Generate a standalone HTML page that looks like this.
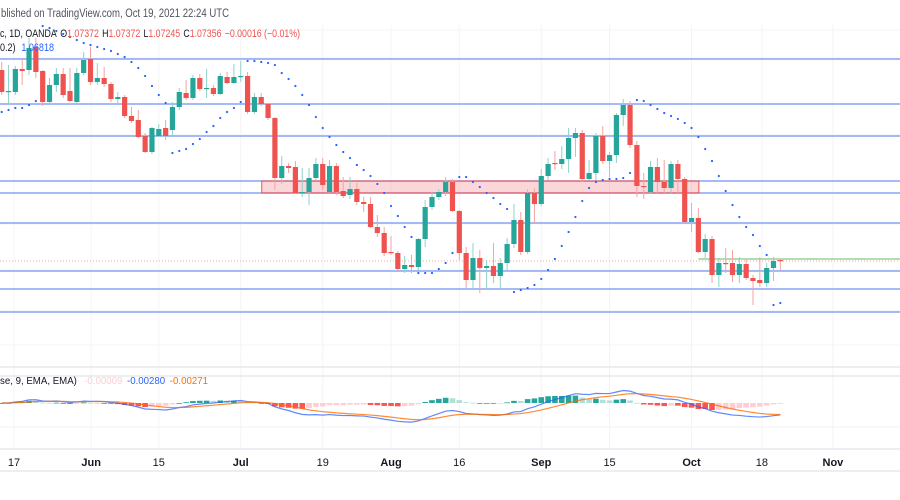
<!DOCTYPE html>
<html><head><meta charset="utf-8"><style>
html,body{margin:0;padding:0;background:#fff;width:900px;height:500px;overflow:hidden}
svg{display:block;font-family:"Liberation Sans",sans-serif}
</style></head><body>
<svg id="chart" width="900" height="500" viewBox="0 0 900 500" xmlns="http://www.w3.org/2000/svg">
<g id="grid"></g>
<g id="levels"></g>
<g id="candles"></g>
<g id="sar"></g>
<g id="macd"></g>
<g id="axis"></g>
<text x="1" y="17" font-size="11.5" fill="#50535e" textLength="228" lengthAdjust="spacingAndGlyphs">blished on TradingView.com, Oct 19, 2021 22:24 UTC</text>
<text x="0" y="37" font-size="11" fill="#131722" textLength="300" lengthAdjust="spacingAndGlyphs">c, 1D, OANDA <tspan dx="2">O</tspan><tspan fill="#ef5350">1.07372</tspan><tspan dx="4">H</tspan><tspan fill="#ef5350">1.07372</tspan><tspan dx="4">L</tspan><tspan fill="#ef5350">1.07245</tspan><tspan dx="4">C</tspan><tspan fill="#ef5350">1.07356</tspan><tspan dx="4" fill="#ef5350">−0.00016 (−0.01%)</tspan></text>
<text x="0" y="51" font-size="11" fill="#131722" textLength="54" lengthAdjust="spacingAndGlyphs">0.2) <tspan dx="4" fill="#2962ff">1.06818</tspan></text>
<text x="0" y="384" font-size="10.5" fill="#131722" textLength="208" lengthAdjust="spacingAndGlyphs">se, 9, EMA, EMA) <tspan dx="5" fill="#ffcdd2">-0.00009</tspan><tspan dx="5" fill="#2962ff">-0.00280</tspan><tspan dx="5" fill="#ff6d00">-0.00271</tspan></text>
</svg>
<script>
const opens=[1.0930,1.0908,1.0908,1.0931,1.0930,1.0953,1.0929,1.0898,1.0915,1.0926,1.0909,1.0898,1.0927,1.0941,1.0918,1.0922,1.0916,1.0901,1.0903,1.0884,1.0880,1.0864,1.0848,1.0864,1.0872,1.0870,1.0893,1.0907,1.0902,1.0922,1.0911,1.0912,1.0906,1.0923,1.0917,1.0923,1.0924,1.0888,1.0903,1.0896,1.0882,1.0822,1.0834,1.0833,1.0807,1.0808,1.0822,1.0836,1.0808,1.0834,1.0809,1.0805,1.0811,1.0798,1.0796,1.0773,1.0767,1.0748,1.0747,1.0731,1.0735,1.0733,1.0761,1.0793,1.0803,1.0808,1.0818,1.0789,1.0747,1.0720,1.0742,1.0732,1.0734,1.0724,1.0737,1.0756,1.0780,1.0748,1.0807,1.0796,1.0824,1.0837,1.0836,1.0841,1.0862,1.0867,1.0821,1.0827,1.0864,1.0839,1.0845,1.0885,1.0895,1.0855,1.0814,1.0808,1.0833,1.0818,1.0812,1.0836,1.0821,1.0778,1.0782,1.0748,1.0761,1.0725,1.0737,1.0737,1.0725,1.0736,1.0722,1.0720,1.0717,1.0732,1.0740];
const highs=[1.0938,1.0935,1.0934,1.0940,1.0962,1.0962,1.0930,1.0922,1.0932,1.0932,1.0932,1.0932,1.0948,1.0953,1.0937,1.0933,1.0918,1.0908,1.0905,1.0893,1.0890,1.0867,1.0873,1.0876,1.0880,1.0898,1.0912,1.0920,1.0925,1.0926,1.0931,1.0915,1.0927,1.0928,1.0936,1.0939,1.0928,1.0907,1.0907,1.0897,1.0883,1.0844,1.0837,1.0839,1.0832,1.0832,1.0842,1.0842,1.0840,1.0837,1.0823,1.0823,1.0817,1.0803,1.0803,1.0785,1.0773,1.0764,1.0749,1.0744,1.0745,1.0762,1.0800,1.0808,1.0811,1.0823,1.0821,1.0790,1.0753,1.0757,1.0750,1.0740,1.0757,1.0742,1.0762,1.0796,1.0788,1.0811,1.0812,1.0831,1.0842,1.0849,1.0854,1.0872,1.0872,1.0870,1.0840,1.0867,1.0874,1.0848,1.0887,1.0901,1.0899,1.0859,1.0827,1.0839,1.0842,1.0840,1.0839,1.0840,1.0823,1.0797,1.0792,1.0766,1.0764,1.0742,1.0752,1.0750,1.0743,1.0740,1.0725,1.0743,1.0737,1.0743,1.0740];
const lows=[1.0905,1.0897,1.0905,1.0915,1.0925,1.0922,1.0894,1.0895,1.0908,1.0902,1.0898,1.0895,1.0925,1.0915,1.0915,1.0913,1.0898,1.0895,1.0882,1.0877,1.0862,1.0847,1.0846,1.0863,1.0860,1.0863,1.0890,1.0900,1.0900,1.0909,1.0902,1.0904,1.0905,1.0916,1.0916,1.0918,1.0886,1.0886,1.0894,1.0880,1.0810,1.0816,1.0827,1.0806,1.0803,1.0795,1.0820,1.0810,1.0807,1.0805,1.0802,1.0801,1.0795,1.0788,1.0772,1.0763,1.0744,1.0745,1.0730,1.0727,1.0727,1.0728,1.0753,1.0790,1.0800,1.0804,1.0788,1.0740,1.0712,1.0710,1.0707,1.0711,1.0717,1.0711,1.0730,1.0752,1.0745,1.0746,1.0777,1.0794,1.0820,1.0830,1.0831,1.0827,1.0843,1.0818,1.0820,1.0820,1.0836,1.0823,1.0837,1.0874,1.0852,1.0803,1.0801,1.0807,1.0807,1.0807,1.0807,1.0807,1.0777,1.0768,1.0747,1.0742,1.0717,1.0713,1.0727,1.0718,1.0717,1.0720,1.0695,1.0713,1.0713,1.0719,1.0730];
const closes=[1.0908,1.0909,1.0931,1.0929,1.0952,1.0928,1.0898,1.0915,1.0926,1.0905,1.0899,1.0927,1.0940,1.0918,1.0922,1.0916,1.0901,1.0903,1.0884,1.0879,1.0863,1.0848,1.0872,1.0871,1.0864,1.0893,1.0908,1.0902,1.0922,1.0911,1.0912,1.0906,1.0924,1.0917,1.0923,1.0924,1.0888,1.0903,1.0896,1.0882,1.0822,1.0834,1.0832,1.0807,1.0808,1.0822,1.0836,1.0815,1.0834,1.0808,1.0804,1.0811,1.0798,1.0796,1.0773,1.0767,1.0747,1.0747,1.0731,1.0735,1.0733,1.0761,1.0793,1.0803,1.0808,1.0818,1.0789,1.0747,1.0720,1.0742,1.0732,1.0734,1.0724,1.0737,1.0756,1.0780,1.0748,1.0807,1.0796,1.0824,1.0836,1.0836,1.0841,1.0862,1.0867,1.0821,1.0827,1.0864,1.0839,1.0845,1.0885,1.0895,1.0855,1.0814,1.0813,1.0833,1.0818,1.0812,1.0836,1.0821,1.0778,1.0782,1.0748,1.0761,1.0725,1.0737,1.0736,1.0725,1.0736,1.0722,1.0719,1.0717,1.0732,1.0739,1.0739];
const sarValues=[1.0888,1.0890,1.0892,1.0892,1.0895,1.0899,1.0974,1.0972,1.0969,1.0966,1.0963,1.0960,1.0957,1.0955,1.0953,1.0951,1.0949,1.0946,1.0943,1.0938,1.0932,1.0924,1.0914,1.0905,1.0897,1.0847,1.0849,1.0851,1.0856,1.0861,1.0868,1.0874,1.0882,1.0888,1.0892,1.0898,1.0939,1.0939,1.0938,1.0937,1.0935,1.0927,1.0921,1.0914,1.0905,1.0895,1.0883,1.0872,1.0863,1.0855,1.0848,1.0842,1.0835,1.0830,1.0824,1.0816,1.0807,1.0794,1.0784,1.0773,1.0763,1.0727,1.0727,1.0727,1.0731,1.0737,1.0747,1.0823,1.0823,1.0818,1.0813,1.0807,1.0802,1.0796,1.0791,1.0708,1.0710,1.0712,1.0715,1.0721,1.0730,1.0741,1.0754,1.0768,1.0783,1.0799,1.0812,1.0818,1.0820,1.0821,1.0821,1.0822,1.0827,1.0900,1.0899,1.0895,1.0891,1.0887,1.0884,1.0881,1.0877,1.0872,1.0863,1.0851,1.0839,1.0824,1.0809,1.0795,1.0783,1.0773,1.0765,1.0754,1.0745,1.0695,1.0697];
const levelPrices=[1.0941,1.0896,1.0864,1.0819,1.0807,1.0777,1.0729,1.0711,1.0688];
const zoneTop=1.0819, zoneBottom=1.0807, zoneStart=38, zoneEnd=102;
const greenLinePrice=1.0741, greenLineStart=102;
const lastPrice=1.0739;
const tickLabels=["17","Jun","15","Jul","19","Aug","16","Sep","15","Oct","18","Nov"];
const tickBars=[1.8,13.1,23,35,47,57,67,79,89,101,111.3,121.7];
const tickBold=[false,true,false,true,false,true,false,true,false,true,false,true];

const NS="http://www.w3.org/2000/svg";
const X0=1.7, DX=6.83;
function xs(i){return X0+i*DX;}
function ys(p){return (1.1-p)*10000;}
const MZ=403, MK=5300;
function ym(v){return MZ-v*MK;}
function mk(tag,attrs,parent){const e=document.createElementNS(NS,tag);for(const k in attrs)e.setAttribute(k,attrs[k]);parent.appendChild(e);return e;}
const grid=document.getElementById('grid'),levels=document.getElementById('levels'),cg=document.getElementById('candles'),sg=document.getElementById('sar'),mg=document.getElementById('macd'),ag=document.getElementById('axis');

[30,58,104,135,181,224,270,311,345].forEach(y=>{mk('line',{x1:0,x2:900,y1:y,y2:y,stroke:'#f3f4f7','stroke-width':1},grid);});
tickBars.forEach(b=>{mk('line',{x1:xs(b),x2:xs(b),y1:25,y2:449,stroke:'#f3f4f7','stroke-width':1},grid);});
[367,376,449,471].forEach(y=>{mk('line',{x1:0,x2:900,y1:y,y2:y,stroke:'#e6e8ee','stroke-width':1.5},grid);});
mk('line',{x1:0,x2:900,y1:427,y2:427,stroke:'#f0f2f6','stroke-width':1},grid);

levelPrices.forEach((p,i)=>{
  const l=mk('line',{x1:0,x2:900,y1:ys(p),y2:ys(p),stroke:'#8aa4f6','stroke-width':1.6},levels);
  
  
});
const zone=mk('rect',{x:xs(zoneStart)+0.5,y:ys(zoneTop),width:xs(zoneEnd)-xs(zoneStart),height:ys(zoneBottom)-ys(zoneTop),fill:'rgba(242,54,69,0.2)',stroke:'#ef5350','stroke-width':1},levels);


const gl=mk('line',{x1:xs(greenLineStart),x2:900,y1:ys(greenLinePrice),y2:ys(greenLinePrice),stroke:'#66bb6a','stroke-width':1},levels);


const pl=mk('line',{x1:0,x2:900,y1:ys(lastPrice),y2:ys(lastPrice),stroke:'#f7a5a5','stroke-width':1,'stroke-dasharray':'1,2'},levels);



for(let i=0;i<closes.length;i++){
  const up=closes[i]>=opens[i];const c=up?'#26a69a':'#ef5350';const x=xs(i);
  const g=mk('g',{},cg);
  
  
  mk('line',{x1:x,x2:x,y1:ys(highs[i]),y2:ys(lows[i]),stroke:up?'#8fd2c9':'#f5a3a1','stroke-width':1},g);
  const t=ys(Math.max(opens[i],closes[i])),bt=ys(Math.min(opens[i],closes[i]));
  mk('rect',{x:x-2.6,y:t,width:5.2,height:Math.max(1.2,bt-t),fill:c},g);
}
sarValues.forEach((v,i)=>{const d=mk('circle',{cx:xs(i),cy:ys(v),r:1.1,fill:'#2962ff'},sg);
  
  });

function ema(arr,n){const k=2/(n+1);const o=[];let p=arr[0];arr.forEach((v,i)=>{p=i?v*k+p*(1-k):v;o.push(p);});return o;}
const e12=ema(closes,12),e26=ema(closes,26);
const macdLine=e12.map((v,i)=>v-e26[i]);
const signal=ema(macdLine,9);
const hist=macdLine.map((v,i)=>v-signal[i]);
hist.forEach((h,i)=>{
  const prev=i?hist[i-1]:0;let col;
  if(h>=0)col=h>=prev?'#26a69a':'#b2dfdb';else col=h<prev?'#ff5252':'#ffcdd2';
  const y1=ym(Math.max(h,0)),y2=ym(Math.min(h,0));
  const r=mk('rect',{x:xs(i)-2.8,y:y1,width:5.6,height:Math.max(0.8,y2-y1),fill:col},mg);
  
  
});
const mp=mk('polyline',{points:macdLine.map((v,i)=>xs(i)+','+ym(v)).join(' '),fill:'none',stroke:'#2962ff','stroke-width':1.2,opacity:0.75},mg);


const sp=mk('polyline',{points:signal.map((v,i)=>xs(i)+','+ym(v)).join(' '),fill:'none',stroke:'#ff6d00','stroke-width':1.2,opacity:0.8},mg);



tickLabels.forEach((t,i)=>{
  const e=mk('text',{x:xs(tickBars[i]),y:466,'font-size':11,'text-anchor':'middle',fill:'#131722','font-weight':tickBold[i]?'bold':'normal'},ag);
  e.textContent=t;
  
  
});
</script>
</body></html>
